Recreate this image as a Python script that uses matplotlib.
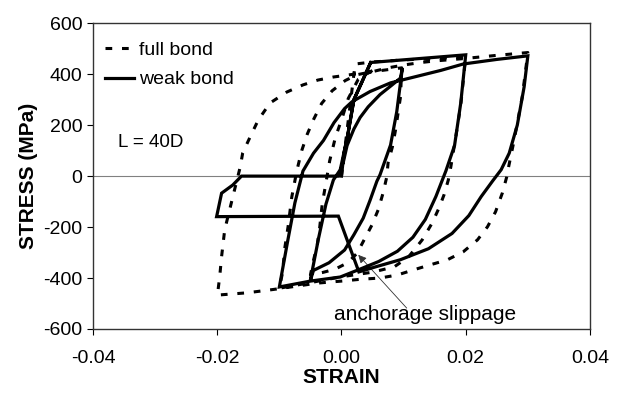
import numpy as np
import matplotlib
matplotlib.use("Agg")
from matplotlib import pyplot as plt

plt.rcParams['font.family'] = ['Liberation Sans', 'DejaVu Sans']
plt.rcParams['axes.unicode_minus'] = False

# full bond (dashed): 0 -> +0.02 -> -0.01 -> +0.03 -> -0.02 -> +0.01 -> -0.005 -> +0.005
full_strain = [0.0, 0.0022, 0.005, 0.01, 0.015, 0.02,
               0.0192, 0.0184, 0.0176, 0.0172, 0.0165, 0.0157, 0.0146, 0.013, 0.0108, 0.0085,
               0.005, 0.0, -0.005, -0.01,
               -0.0095, -0.0091, -0.0086, -0.008, -0.0072, -0.0064, -0.0055, -0.0045, -0.0032,
               -0.0015, 0.0006, 0.0025, 0.005, 0.0075, 0.01, 0.0125, 0.015, 0.02, 0.025, 0.03,
               0.0291, 0.0277, 0.0269, 0.0266, 0.0259, 0.0248, 0.0235, 0.0219, 0.0196, 0.017,
               0.0143, 0.0116, 0.009, 0.0062, 0.003, 0.0, -0.0039, -0.0067, -0.011, -0.0152, -0.02,
               -0.0199, -0.0196, -0.0193, -0.0188, -0.0175, -0.0163, -0.0159, -0.0147, -0.0134,
               -0.0115, -0.0088, -0.0062, -0.0038, -0.0013, 0.002, 0.005, 0.0075, 0.0097,
               0.0095, 0.0087, 0.0082, 0.0075, 0.0073, 0.0067, 0.0059, 0.0049, 0.0038, 0.0025,
               0.001, -0.001, -0.003, -0.005,
               -0.0045, -0.0039, -0.0035, -0.0031, -0.0026, -0.0019, -0.001, 0.0001, 0.0011,
               0.0027, 0.005]
full_stress = [0, 440, 448, 456, 462, 468,
               279, 154, 36, -15, -74, -125, -184, -250, -317, -356,
               -377, -395, -418, -440,
               -380, -278, -199, -82, 20, 100, 165, 222, 285,
               335, 375, 398, 410, 425, 436, 445, 452, 462, 474, 485,
               311, 130, 36, -3, -66, -140, -199, -250, -297, -329,
               -348, -368, -388, -400, -405, -412, -420, -430, -445, -458, -467,
               -453, -394, -316, -211, -82, 36, 91, 154, 220,
               287, 330, 358, 377, 389, 400, 410, 418, 425,
               311, 181, 115, 52, -2, -66, -133, -192, -243, -303,
               -340, -365, -378, -388,
               -330, -270, -200, -110, -40, 60, 150, 228, 305,
               380, 415]

# weak bond (solid), same history with anchorage slip after +0.03
weak_strain = [0.0, 0.0004, 0.001, 0.002, 0.0033, 0.0047, 0.02,
               0.0192, 0.0182, 0.0168, 0.0152, 0.0135, 0.0115, 0.009, 0.006, 0.003, -0.0002,
               -0.005, -0.01,
               -0.0087, -0.0075, -0.0062, -0.0045, -0.0029, -0.0012, 0.0005, 0.0017, 0.0046,
               0.0079, 0.0122, 0.016, 0.0196, 0.025, 0.03,
               0.0294, 0.0283, 0.027, 0.0257, 0.0243, 0.0225, 0.0205, 0.0178, 0.014, 0.0095,
               0.0055, 0.0028,
               -0.0005, -0.0201, -0.0193, -0.0175, -0.0161, -0.0005,
               0.0003, 0.0009, 0.002, 0.003, 0.0043, 0.0062, 0.008, 0.0095, 0.0098,
               0.0089, 0.0079, 0.0062, 0.0057, 0.0046, 0.0035, 0.002, 0.0005, -0.002, -0.0045, -0.005,
               -0.0037, -0.0025, -0.0013, -0.0002, 0.001, 0.002, 0.0033, 0.0047]
weak_stress = [0, 90, 160, 300, 370, 446, 476,
               287, 120, 20, -80, -170, -240, -295, -335, -365, -396,
               -412, -435,
               -260, -105, 20, 90, 140, 210, 265, 292, 332,
               366, 392, 415, 440, 458, 472,
               350, 200, 90, 25, -20, -80, -155, -225, -285, -328,
               -356, -376,
               -157, -159, -67, -35, 0, 0,
               55, 120, 185, 230, 272, 320, 355, 385, 424,
               253, 122, 5, -20, -95, -165, -230, -290, -340, -370, -408,
               -245, -110, -15, 25, 160, 300, 370, 446]

x_ticks = [-0.04, -0.02, 0.0, 0.02, 0.04]
y_ticks = [-600, -400, -200, 0, 200, 400, 600]

fig = plt.figure(figsize=(6.22, 3.94), dpi=100)
ax = fig.add_axes([0.1495, 0.165, 0.799, 0.776])

ax.axhline(0, color='#808080', lw=0.8, zorder=1)
ax.plot(full_strain, full_stress, color='black', lw=2.2, linestyle=(0, (2.2, 3.2)),
        label='full bond', zorder=3)
ax.plot(weak_strain, weak_stress, color='black', lw=2.3, solid_joinstyle='miter',
        label='weak bond', zorder=4)

ax.set_xlim(-0.04, 0.04)
ax.set_ylim(-600, 600)
ax.set_xticks(x_ticks)
ax.set_yticks(y_ticks)
ax.xaxis.set_major_formatter(matplotlib.ticker.FormatStrFormatter('%.2f'))
ax.tick_params(direction='out', length=4, width=0.8, labelsize=14, colors='black')
ax.tick_params(axis='x', pad=11)
for s in ax.spines.values():
    s.set_linewidth(1.0)
    s.set_color('#333333')

ax.set_xlabel('STRAIN', fontsize=15, fontweight='bold', labelpad=1)
ax.set_ylabel('STRESS (MPa)', fontsize=15, fontweight='bold', labelpad=4)

ax.text(-0.036, 131, 'L = 40D', fontsize=13.5, va='center', ha='left')

ax.text(0.0135, -545, 'anchorage slippage', fontsize=15, ha='center', va='center')
ax.annotate('', xy=(0.0027, -309), xytext=(0.0105, -518),
            arrowprops=dict(arrowstyle='-|>', color='#333333', lw=0.6,
                            mutation_scale=12, shrinkA=0, shrinkB=0))

ax.legend(loc='upper left', bbox_to_anchor=(0.024, 0.94), frameon=False,
          fontsize=14, handlelength=1.5, handletextpad=0.25, labelspacing=0.6,
          borderpad=0, borderaxespad=0)

fig.savefig('out.png', dpi=100)
